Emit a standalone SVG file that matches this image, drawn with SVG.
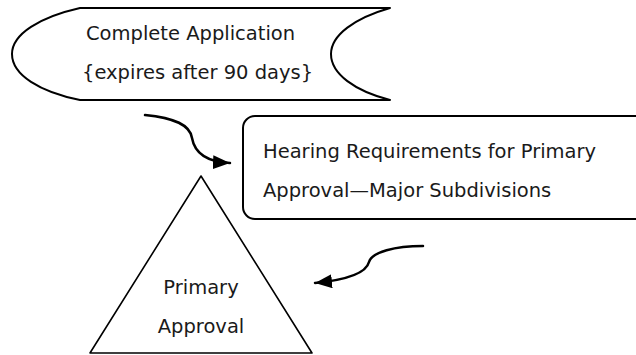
<svg xmlns="http://www.w3.org/2000/svg" width="636" height="355" viewBox="0 0 636 355">
  <style>
    .shape { fill: #ffffff; stroke: #000000; stroke-width: 2; stroke-linejoin: round; }
    .label { font-family: "DejaVu Sans", "Liberation Sans", sans-serif; font-size: 19.5px; fill: #1a1a1a; }
    .mid { text-anchor: middle; }
    .link { fill: none; stroke: #000000; stroke-width: 2.5; stroke-linecap: round; }
  </style>
  <defs>
    <marker id="arrowhead" markerUnits="userSpaceOnUse" markerWidth="18" markerHeight="15" refX="17" refY="7" orient="auto" viewBox="0 0 18 15">
      <path d="M0,0 L17,7 L0,14 z" fill="#000000"/>
    </marker>
  </defs>
  <rect width="636" height="355" fill="#ffffff"/>

  <!-- stored-data shape: application -->
  <g id="complete-application">
    <path class="shape" d="M80,8 H390 C355,18 331,35 331,54 C331,74 355,91 390,100 H80 C40,92 12,75 12,54 C12,34 40,17 80,8 Z"/>
    <text class="label" x="86" y="40">Complete Application</text>
    <text class="label" x="82" y="79">{expires after 90 days}</text>
  </g>

  <!-- rounded box: hearing requirements -->
  <g id="hearing-requirements">
    <rect class="shape" x="243" y="116" width="420" height="103" rx="12" ry="12"/>
    <text class="label" x="263" y="158">Hearing Requirements for Primary</text>
    <text class="label" x="263" y="197">Approval—Major Subdivisions</text>
  </g>

  <!-- triangle: primary approval -->
  <g id="primary-approval">
    <path class="shape" style="stroke-width:1.6" d="M201,176 L312,353 L90,353 Z"/>
    <text class="label mid" x="201" y="294">Primary</text>
    <text class="label mid" x="201" y="333">Approval</text>
  </g>

  <!-- connectors -->
  <g id="connectors">
    <path class="link" marker-end="url(#arrowhead)" d="M145,115 C175,118 190,125 192,138 C195,155 210,162 230,163"/>
    <path class="link" marker-end="url(#arrowhead)" d="M423,246 C395,246 372,252 369,262 C366,274 345,280 315,283"/>
  </g>
</svg>
